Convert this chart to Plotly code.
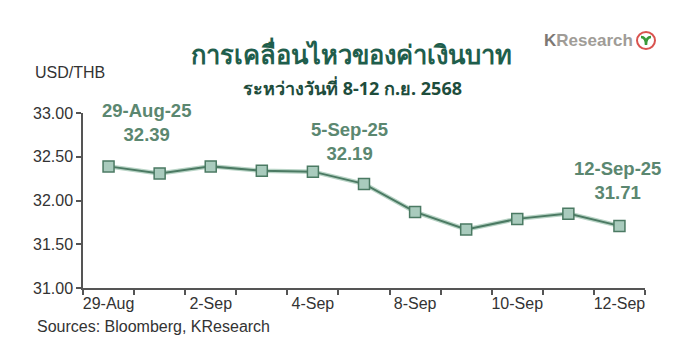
import plotly.graph_objects as go

dates = ["29-Aug", "1-Sep", "2-Sep", "3-Sep", "4-Sep", "5-Sep",
         "8-Sep", "9-Sep", "10-Sep", "11-Sep", "12-Sep"]
usd_thb = [32.39, 32.31, 32.39, 32.34, 32.33, 32.19, 31.87, 31.67, 31.79, 31.85, 31.71]
tick_labels = ["29-Aug", "2-Sep", "4-Sep", "8-Sep", "10-Sep", "12-Sep"]
callouts = [("29-Aug", "29-Aug-25"), ("5-Sep", "5-Sep-25"), ("12-Sep", "12-Sep-25")]

xs = list(range(len(dates)))
tick_pos = [dates.index(t) for t in tick_labels]

dark = "#4b7a63"
light = "#a9cbbd"
ann_color = "#5b8770"

L, R, T, B = 75, 48, 105, 80
PW = 685 - L - R
PH = 360 - T - B


def px(sx):
    return (sx - 8 - L) / PW


def py(sy):
    return (360 - B - (sy - 8)) / PH


fig = go.Figure()
fig.add_trace(go.Scatter(x=xs, y=usd_thb, mode="lines",
                         line=dict(color="#b9d4c6", width=4.5), hoverinfo="skip"))
fig.add_trace(go.Scatter(x=xs, y=usd_thb, mode="lines+markers",
                         line=dict(color=dark, width=2),
                         marker=dict(symbol="square", size=11, color=light,
                                     line=dict(color=dark, width=1.5))))

ann_offsets = {"29-Aug": (38, 19), "5-Sep": (-15, 18), "12-Sep": (-2, 21)}
for d, lab in callouts:
    i = dates.index(d)
    v = usd_thb[i]
    dx, dy = ann_offsets[d]
    fig.add_annotation(x=i, y=v, text=f"<b>{lab}<br>{v:.2f}</b>", showarrow=False,
                       xshift=dx, yshift=dy, yanchor="bottom", xanchor="center",
                       font=dict(family="Liberation Sans", size=18.5, color=ann_color),
                       align="center", yref="y", xref="x")

fig.update_layout(
    width=685, height=360,
    margin=dict(l=L, r=R, t=T, b=B),
    paper_bgcolor="white", plot_bgcolor="white",
    showlegend=False,
    font=dict(family="Liberation Sans", size=16, color="#333333"),
    xaxis=dict(range=[-0.5, len(dates) - 0.5], tickmode="array", tickvals=tick_pos,
               ticktext=tick_labels, ticks="", showgrid=False, zeroline=False,
               showline=True, linecolor="#555555", linewidth=1.5,
               tickfont=dict(size=16, color="#333333"),
               minor=dict(tickmode="array",
                          tickvals=[i - 0.5 for i in range(len(dates) + 1)],
                          ticks="outside", ticklen=5, tickcolor="#555555", tickwidth=1.5,
                          showgrid=False)),
    yaxis=dict(range=[31, 33], dtick=0.5, tickformat=".2f", ticks="outside",
               ticklen=5, tickcolor="#555555", tickwidth=1.5, showgrid=False,
               zeroline=False, showline=True, linecolor="#555555", linewidth=1.5,
               tickfont=dict(size=16, color="#333333")),
)

fig.add_annotation(text="<b>การเคลื่อนไหวของค่าเงินบาท</b>", xref="paper", yref="paper",
                   x=px(351), y=py(54), xanchor="center", yanchor="middle",
                   showarrow=False,
                   font=dict(size=25.5, color="#1f5e4c", family="Noto Sans, sans-serif"))
fig.add_annotation(text="<b>ระหว่างวันที่ 8-12 ก.ย. 2568</b>", xref="paper", yref="paper",
                   x=px(352), y=py(88), xanchor="center", yanchor="middle",
                   showarrow=False,
                   font=dict(size=18, color="#1e4d3c", family="Noto Sans, sans-serif"))
fig.add_annotation(text="USD/THB", xref="paper", yref="paper", x=px(33), y=py(72),
                   xanchor="left", yanchor="middle", showarrow=False,
                   font=dict(size=16, color="#333333"))
fig.add_annotation(text="Sources: Bloomberg, KResearch", xref="paper", yref="paper",
                   x=px(35), y=py(326), xanchor="left", yanchor="middle",
                   showarrow=False, font=dict(size=16, color="#333333"))
# KResearch logo
fig.add_annotation(text="<b><span style='color:#7d7873'>K</span>Research</b>",
                   xref="paper", yref="paper", x=px(635), y=py(40), xanchor="right",
                   yanchor="middle", showarrow=False,
                   font=dict(size=17, color="#a09c97", family="Liberation Sans"))
fig.add_shape(type="circle", xref="paper", yref="paper",
              x0=px(637), x1=px(655), y0=py(49), y1=py(32),
              line=dict(color="#d9534f", width=2), fillcolor="white")
fig.add_shape(type="path", xref="paper", yref="paper",
              path=f"M {px(641)},{py(37)} Q {px(646)},{py(37)} {px(646)},{py(45)} "
                   f"M {px(651)},{py(37)} Q {px(646)},{py(37)} {px(646)},{py(45)}",
              line=dict(color="#3a9a3a", width=2.5))

fig.write_html("out.html")
